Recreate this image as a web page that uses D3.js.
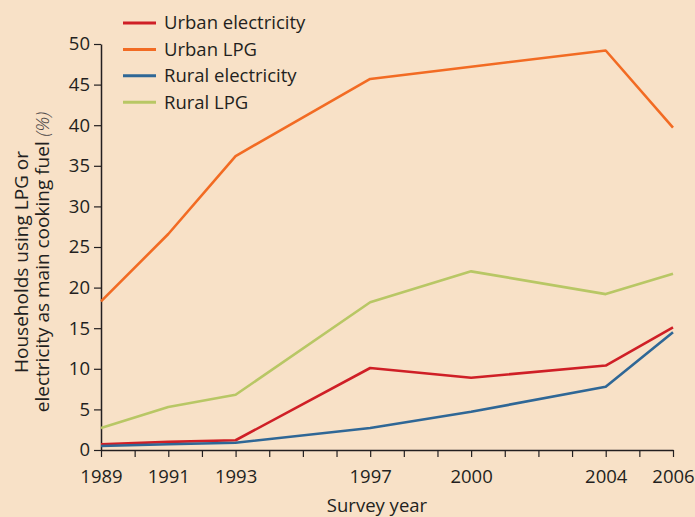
<!DOCTYPE html>
<html>
<head>
<meta charset="utf-8">
<script src="https://cdn.jsdelivr.net/npm/d3@7"></script>
<style>
  html, body { margin: 0; padding: 0; background: #f8e1c7; }
  #chart { width: 695px; height: 517px; }
  text { font-family: "Open Sans", "Noto Sans", sans-serif; fill: #231f20; }
</style>
</head>
<body>
<div id="chart"></div>
<script>
// Survey years and series values (% of households)
const YEARS = [1989, 1991, 1993, 1997, 2000, 2004, 2006];
const URBAN_ELEC = [0.7, 1.0, 1.2, 10.1, 8.9, 10.4, 15.1];
const URBAN_LPG = [18.3, 26.6, 36.2, 45.7, 47.2, 49.2, 39.7];
const RURAL_ELEC = [0.5, 0.7, 0.9, 2.7, 4.7, 7.8, 14.5];
const RURAL_LPG = [2.7, 5.3, 6.8, 18.2, 22.0, 19.2, 21.7];
const Y_TICKS = [0, 5, 10, 15, 20, 25, 30, 35, 40, 45, 50];
const X_LABELS = [1989, 1991, 1993, 1997, 2000, 2004, 2006];

const SERIES = [
  { name: 'Urban electricity', values: URBAN_ELEC, colour: '#cf1f26' },
  { name: 'Urban LPG', values: URBAN_LPG, colour: '#f26b23' },
  { name: 'Rural electricity', values: RURAL_ELEC, colour: '#2f6796' },
  { name: 'Rural LPG', values: RURAL_LPG, colour: '#b8c765' }
];

const FS = '18.5px';
const width = 695, height = 517;
const MARGIN = { top: 44, right: 22, bottom: 67, left: 101 };
const innerW = width - MARGIN.left - MARGIN.right;
const innerH = height - MARGIN.top - MARGIN.bottom;

const svg = d3.select('#chart').append('svg')
  .attr('width', width)
  .attr('height', height);

svg.append('rect').attr('width', width).attr('height', height).attr('fill', '#f8e1c7');

const g = svg.append('g').attr('transform', `translate(${MARGIN.left},${MARGIN.top})`);

const x = d3.scaleLinear().domain([1989, 2006]).range([0, innerW]);
const y = d3.scaleLinear().domain([0, 50]).range([innerH, 0]);

// x axis: a tick every year, labels only on survey years
const xAxis = g.append('g')
  .attr('transform', `translate(0,${innerH})`)
  .call(d3.axisBottom(x)
    .tickValues(d3.range(1989, 2007))
    .tickSize(7)
    .tickSizeOuter(0)
    .tickFormat(d => X_LABELS.includes(d) ? d : ''));
xAxis.select('.domain').attr('stroke', '#231f20').attr('stroke-width', 1.5);
xAxis.selectAll('line').attr('stroke', '#231f20').attr('stroke-width', 1.2);
xAxis.selectAll('text').style('font-size', FS).attr('y', 16).attr('dy', '0.9em').attr('fill', '#231f20');

// y axis
const yAxis = g.append('g')
  .call(d3.axisLeft(y).tickValues(Y_TICKS).tickSize(7).tickSizeOuter(0));
yAxis.select('.domain').attr('stroke', '#231f20').attr('stroke-width', 1.5);
yAxis.selectAll('line').attr('stroke', '#231f20').attr('stroke-width', 1.2);
yAxis.selectAll('text').style('font-size', FS).attr('x', -11).attr('fill', '#231f20');

// axis titles
svg.append('text')
  .attr('x', MARGIN.left + innerW / 2 - 10)
  .attr('y', 512)
  .attr('text-anchor', 'middle')
  .style('font-size', FS)
  .text('Survey year');

const yt = svg.append('text')
  .attr('transform', 'translate(28,262) rotate(-90)')
  .attr('text-anchor', 'middle')
  .style('font-size', '19px');
yt.append('tspan').attr('x', 0).attr('dy', 0).text('Households using LPG or');
const l2 = yt.append('tspan').attr('x', 0).attr('dy', '21px');
l2.append('tspan').text('electricity as main cooking fuel ');
l2.append('tspan').style('font-style', 'italic').style('font-weight', 300).attr('fill', '#4a4546').text('(%)');

// lines
const line = d3.line()
  .x((d, i) => x(YEARS[i]))
  .y(d => y(d));

for (const s of SERIES) {
  g.append('path')
    .datum(s.values)
    .attr('d', line)
    .attr('fill', 'none')
    .attr('stroke', s.colour)
    .attr('stroke-width', 2.6)
    .attr('stroke-linejoin', 'round');
}

// legend
const legend = svg.append('g').attr('transform', 'translate(123,23)');
SERIES.forEach((s, i) => {
  const row = legend.append('g').attr('transform', `translate(0,${i * 26.4})`);
  row.append('line')
    .attr('x1', 0).attr('x2', 33)
    .attr('stroke', s.colour)
    .attr('stroke-width', 3);
  row.append('text')
    .attr('x', 41)
    .attr('dy', '0.35em')
    .style('font-size', FS)
    .text(s.name);
});
</script>
</body>
</html>
